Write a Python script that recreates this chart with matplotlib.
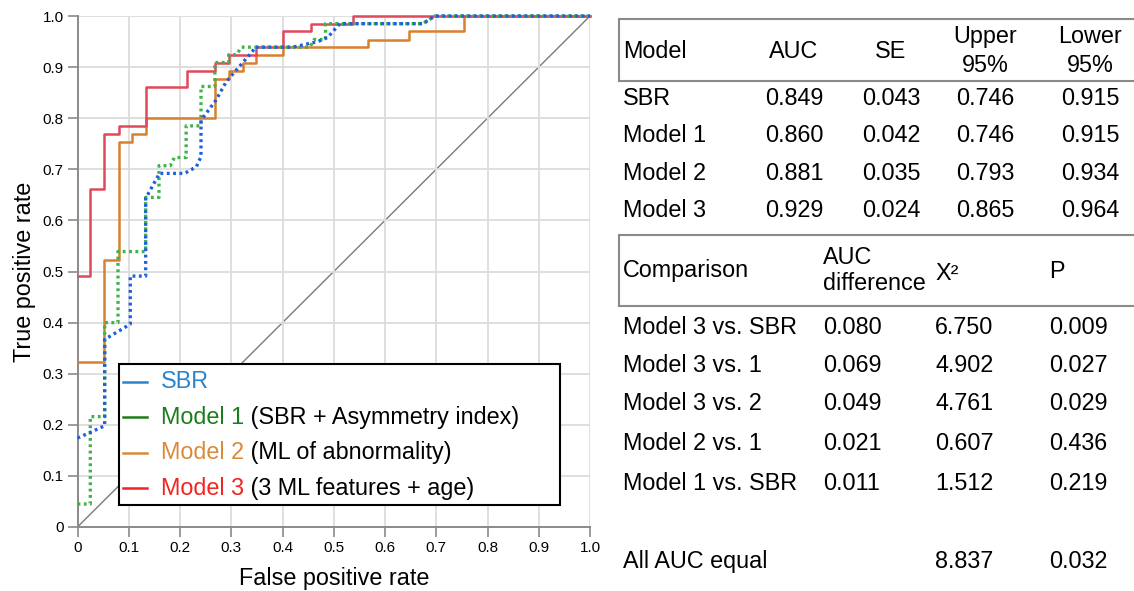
import matplotlib
matplotlib.use("Agg")
import matplotlib.pyplot as plt
from matplotlib.lines import Line2D
from matplotlib.patches import Rectangle

plt.rcParams["font.family"] = ["Liberation Sans", "DejaVu Sans"]

# ---------------------------------------------------------------------------
# ROC curves (FPR, TPR corner points)
# ---------------------------------------------------------------------------
SBR_FPR = [0, 0.053, 0.053, 0.103, 0.103, 0.133, 0.133, 0.160, 0.209, 0.232,
           0.241, 0.241, 0.270, 0.290, 0.313, 0.341, 0.346, 0.420, 0.447, 0.469,
           0.488, 0.512, 0.674, 0.697, 1.0]
SBR_TPR = [0.174, 0.198, 0.367, 0.397, 0.491, 0.491, 0.643, 0.692, 0.692, 0.705,
           0.725, 0.796, 0.835, 0.871, 0.898, 0.930, 0.939, 0.939, 0.945, 0.950,
           0.958, 0.985, 0.985, 1.0, 1.0]

M1_FPR = [0, 0.025, 0.025, 0.043, 0.053, 0.053, 0.079, 0.079, 0.133, 0.133,
          0.159, 0.159, 0.181, 0.189, 0.212, 0.212, 0.241, 0.241, 0.268, 0.268,
          0.295, 0.295, 0.310, 0.320, 0.453, 0.462, 0.484, 0.484, 0.674, 0.697, 1.0]
M1_TPR = [0.045, 0.045, 0.216, 0.216, 0.216, 0.400, 0.400, 0.539, 0.539, 0.645,
          0.645, 0.707, 0.707, 0.723, 0.723, 0.785, 0.785, 0.862, 0.862, 0.909,
          0.909, 0.924, 0.924, 0.939, 0.939, 0.954, 0.954, 0.985, 0.985, 1.0, 1.0]

# step curves (steps-post)
M2_FPR = [0, 0.052, 0.080, 0.107, 0.134, 0.268, 0.295, 0.322, 0.349, 0.401,
          0.566, 0.646, 0.754, 1.0]
M2_TPR = [0.322, 0.523, 0.754, 0.769, 0.800, 0.877, 0.893, 0.909, 0.924, 0.939,
          0.954, 0.970, 1.0, 1.0]

M3_FPR = [0, 0.025, 0.052, 0.080, 0.133, 0.214, 0.268, 0.295, 0.349, 0.401,
          0.456, 0.538, 1.0]
M3_TPR = [0.491, 0.661, 0.769, 0.785, 0.862, 0.893, 0.909, 0.924, 0.939, 0.970,
          0.985, 1.0, 1.0]

LEGEND_NAMES = ["SBR", "Model 1", "Model 2", "Model 3"]
LEGEND_DESC = ["", " (SBR + Asymmetry index)", " (ML of abnormality)",
               " (3 ML features + age)"]

# ---------------------------------------------------------------------------
# Table values
# ---------------------------------------------------------------------------
T1_HEADER = ["Model", "AUC", "SE", "Upper\n95%", "Lower\n95%"]
T1_MODELS = ["SBR", "Model 1", "Model 2", "Model 3"]
T1_AUC = ["0.849", "0.860", "0.881", "0.929"]
T1_SE = ["0.043", "0.042", "0.035", "0.024"]
T1_UPPER = ["0.746", "0.746", "0.793", "0.865"]
T1_LOWER = ["0.915", "0.915", "0.934", "0.964"]

T2_HEADER = ["Comparison", "AUC\ndifference", "Χ²", "P"]
T2_COMP = ["Model 3 vs. SBR", "Model 3 vs. 1", "Model 3 vs. 2", "Model 2 vs. 1",
           "Model 1 vs. SBR", "All AUC equal"]
T2_DIFF = ["0.080", "0.069", "0.049", "0.021", "0.011", ""]
T2_CHI = ["6.750", "4.902", "4.761", "0.607", "1.512", "8.837"]
T2_P = ["0.009", "0.027", "0.029", "0.436", "0.219", "0.032"]

# ---------------------------------------------------------------------------
# Style
# ---------------------------------------------------------------------------
W, H = 1134, 591
FS = 16.8
GRID = "#dcdcdc"
AXIS_GRAY = "#8a8a8a"
C_SBR_LINE = "#1f5fdc"
C_M1_LINE = "#3eb34a"
C_M2_LINE = "#d9802e"
C_M3_LINE = "#e0485c"
C_SBR_LEG = "#2a84cc"
C_M1_LEG = "#1c7d1c"
C_M2_LEG = "#d98a3a"
C_M3_LEG = "#f02420"
DOTS = (0, (0.85, 1.05))


def fx(px):
    return px / W


def fy(py):
    return 1 - py / H


fig = plt.figure(figsize=(W / 100, H / 100), dpi=100)
ax = fig.add_axes([fx(77.5), fy(527), fx(590) - fx(77.5), fy(16) - fy(527)])

ticks = [i / 10 for i in range(11)]
ticklabels = ["0"] + [f"{t:.1f}" for t in ticks[1:]]
ax.set_xlim(0, 1)
ax.set_ylim(0, 1)
ax.set_xticks(ticks, ticklabels)
ax.set_yticks(ticks, ticklabels)
ax.tick_params(length=7, width=1.2, color=AXIS_GRAY, labelsize=11, pad=3)
ax.grid(True, color=GRID, linewidth=1.3, zorder=0)
for side in ["top", "right"]:
    ax.spines[side].set_visible(False)
for side in ["left", "bottom"]:
    ax.spines[side].set_color(AXIS_GRAY)
    ax.spines[side].set_linewidth(1.4)
ax.set_xlabel("False positive rate", fontsize=FS, labelpad=9)
ax.set_ylabel("True positive rate", fontsize=FS, labelpad=5)

ax.plot([0, 1], [0, 1], color="#7a7a7a", linewidth=1.0, zorder=1)

ax.plot(M2_FPR, M2_TPR, drawstyle="steps-post", color=C_M2_LINE, linewidth=1.8,
        zorder=3, clip_on=False)
ax.plot(M3_FPR, M3_TPR, drawstyle="steps-post", color=C_M3_LINE, linewidth=1.8,
        zorder=3, clip_on=False)
ax.plot(M1_FPR, M1_TPR, color=C_M1_LINE, linewidth=2.4, linestyle=DOTS,
        zorder=4, clip_on=False)
ax.plot(SBR_FPR, SBR_TPR, color=C_SBR_LINE, linewidth=2.4, linestyle=DOTS,
        zorder=5, clip_on=False)

# legend drawn by hand so the model name can be coloured separately
ax.add_patch(Rectangle((0.080, 0.043), 0.861, 0.276, transform=ax.transAxes,
                       facecolor="white", edgecolor="black", linewidth=1.5, zorder=6))
leg_colors = [C_SBR_LEG, C_M1_LEG, C_M2_LEG, C_M3_LEG]
row_y = [0.284, 0.215, 0.145, 0.076]
for name, desc, c, y in zip(LEGEND_NAMES, LEGEND_DESC, leg_colors, row_y):
    ax.add_line(Line2D([0.089, 0.135], [y, y], transform=ax.transAxes,
                       color=c, linewidth=1.8, zorder=7))
    t = ax.text(0.162, y, name, transform=ax.transAxes, color=c, fontsize=FS,
                va="center", ha="left", zorder=7)
    if desc:
        ax.annotate(desc, xy=(1, 0), xycoords=t, va="bottom", ha="left",
                    fontsize=FS, color="black", zorder=7)


def header_box(top, bottom, left=618.5):
    kw = dict(color=AXIS_GRAY, linewidth=1.5, transform=fig.transFigure)
    fig.add_artist(Line2D([fx(left), 1], [fy(top), fy(top)], **kw))
    fig.add_artist(Line2D([fx(left), 1], [fy(bottom), fy(bottom)], **kw))
    fig.add_artist(Line2D([fx(left), fx(left)], [fy(top), fy(bottom)], **kw))


# ---------------------------------------------------------------------------
# Table 1
# ---------------------------------------------------------------------------
header_box(18.5, 80.5)
t1_cols = [623, 794, 891, 985, 1090]
t1_ha = ["left", "center", "center", "center", "center"]
for txt, x, ha in zip(T1_HEADER, t1_cols, t1_ha):
    fig.text(fx(x), fy(51), txt, fontsize=FS, ha=ha, va="center",
             linespacing=1.3)
t1_rows = [98.5, 136, 174, 211]
for i, y in enumerate(t1_rows):
    vals = [T1_MODELS[i], T1_AUC[i], T1_SE[i], T1_UPPER[i], T1_LOWER[i]]
    for txt, x, ha in zip(vals, t1_cols, t1_ha):
        fig.text(fx(x), fy(y), txt, fontsize=FS, ha=ha, va="center")

# ---------------------------------------------------------------------------
# Table 2
# ---------------------------------------------------------------------------
header_box(235, 305.5)
t2_cols = [623, 823, 935, 1049]
fig.text(fx(t2_cols[0]), fy(271), T2_HEADER[0], fontsize=FS, ha="left", va="center")
fig.text(fx(t2_cols[1]), fy(270.5), T2_HEADER[1], fontsize=FS, ha="left", va="center",
         linespacing=1.2)
fig.text(fx(t2_cols[2]), fy(274), T2_HEADER[2], fontsize=FS, ha="left", va="center")
fig.text(fx(t2_cols[3]), fy(271), T2_HEADER[3], fontsize=FS, ha="left", va="center")
t2_rows = [327, 365.5, 404, 443.5, 483, 561.5]
for i, y in enumerate(t2_rows):
    vals = [T2_COMP[i], T2_DIFF[i], T2_CHI[i], T2_P[i]]
    for txt, x in zip(vals, t2_cols):
        fig.text(fx(x), fy(y), txt, fontsize=FS, ha="left", va="center")

fig.savefig("out.png", dpi=100, facecolor="white")
